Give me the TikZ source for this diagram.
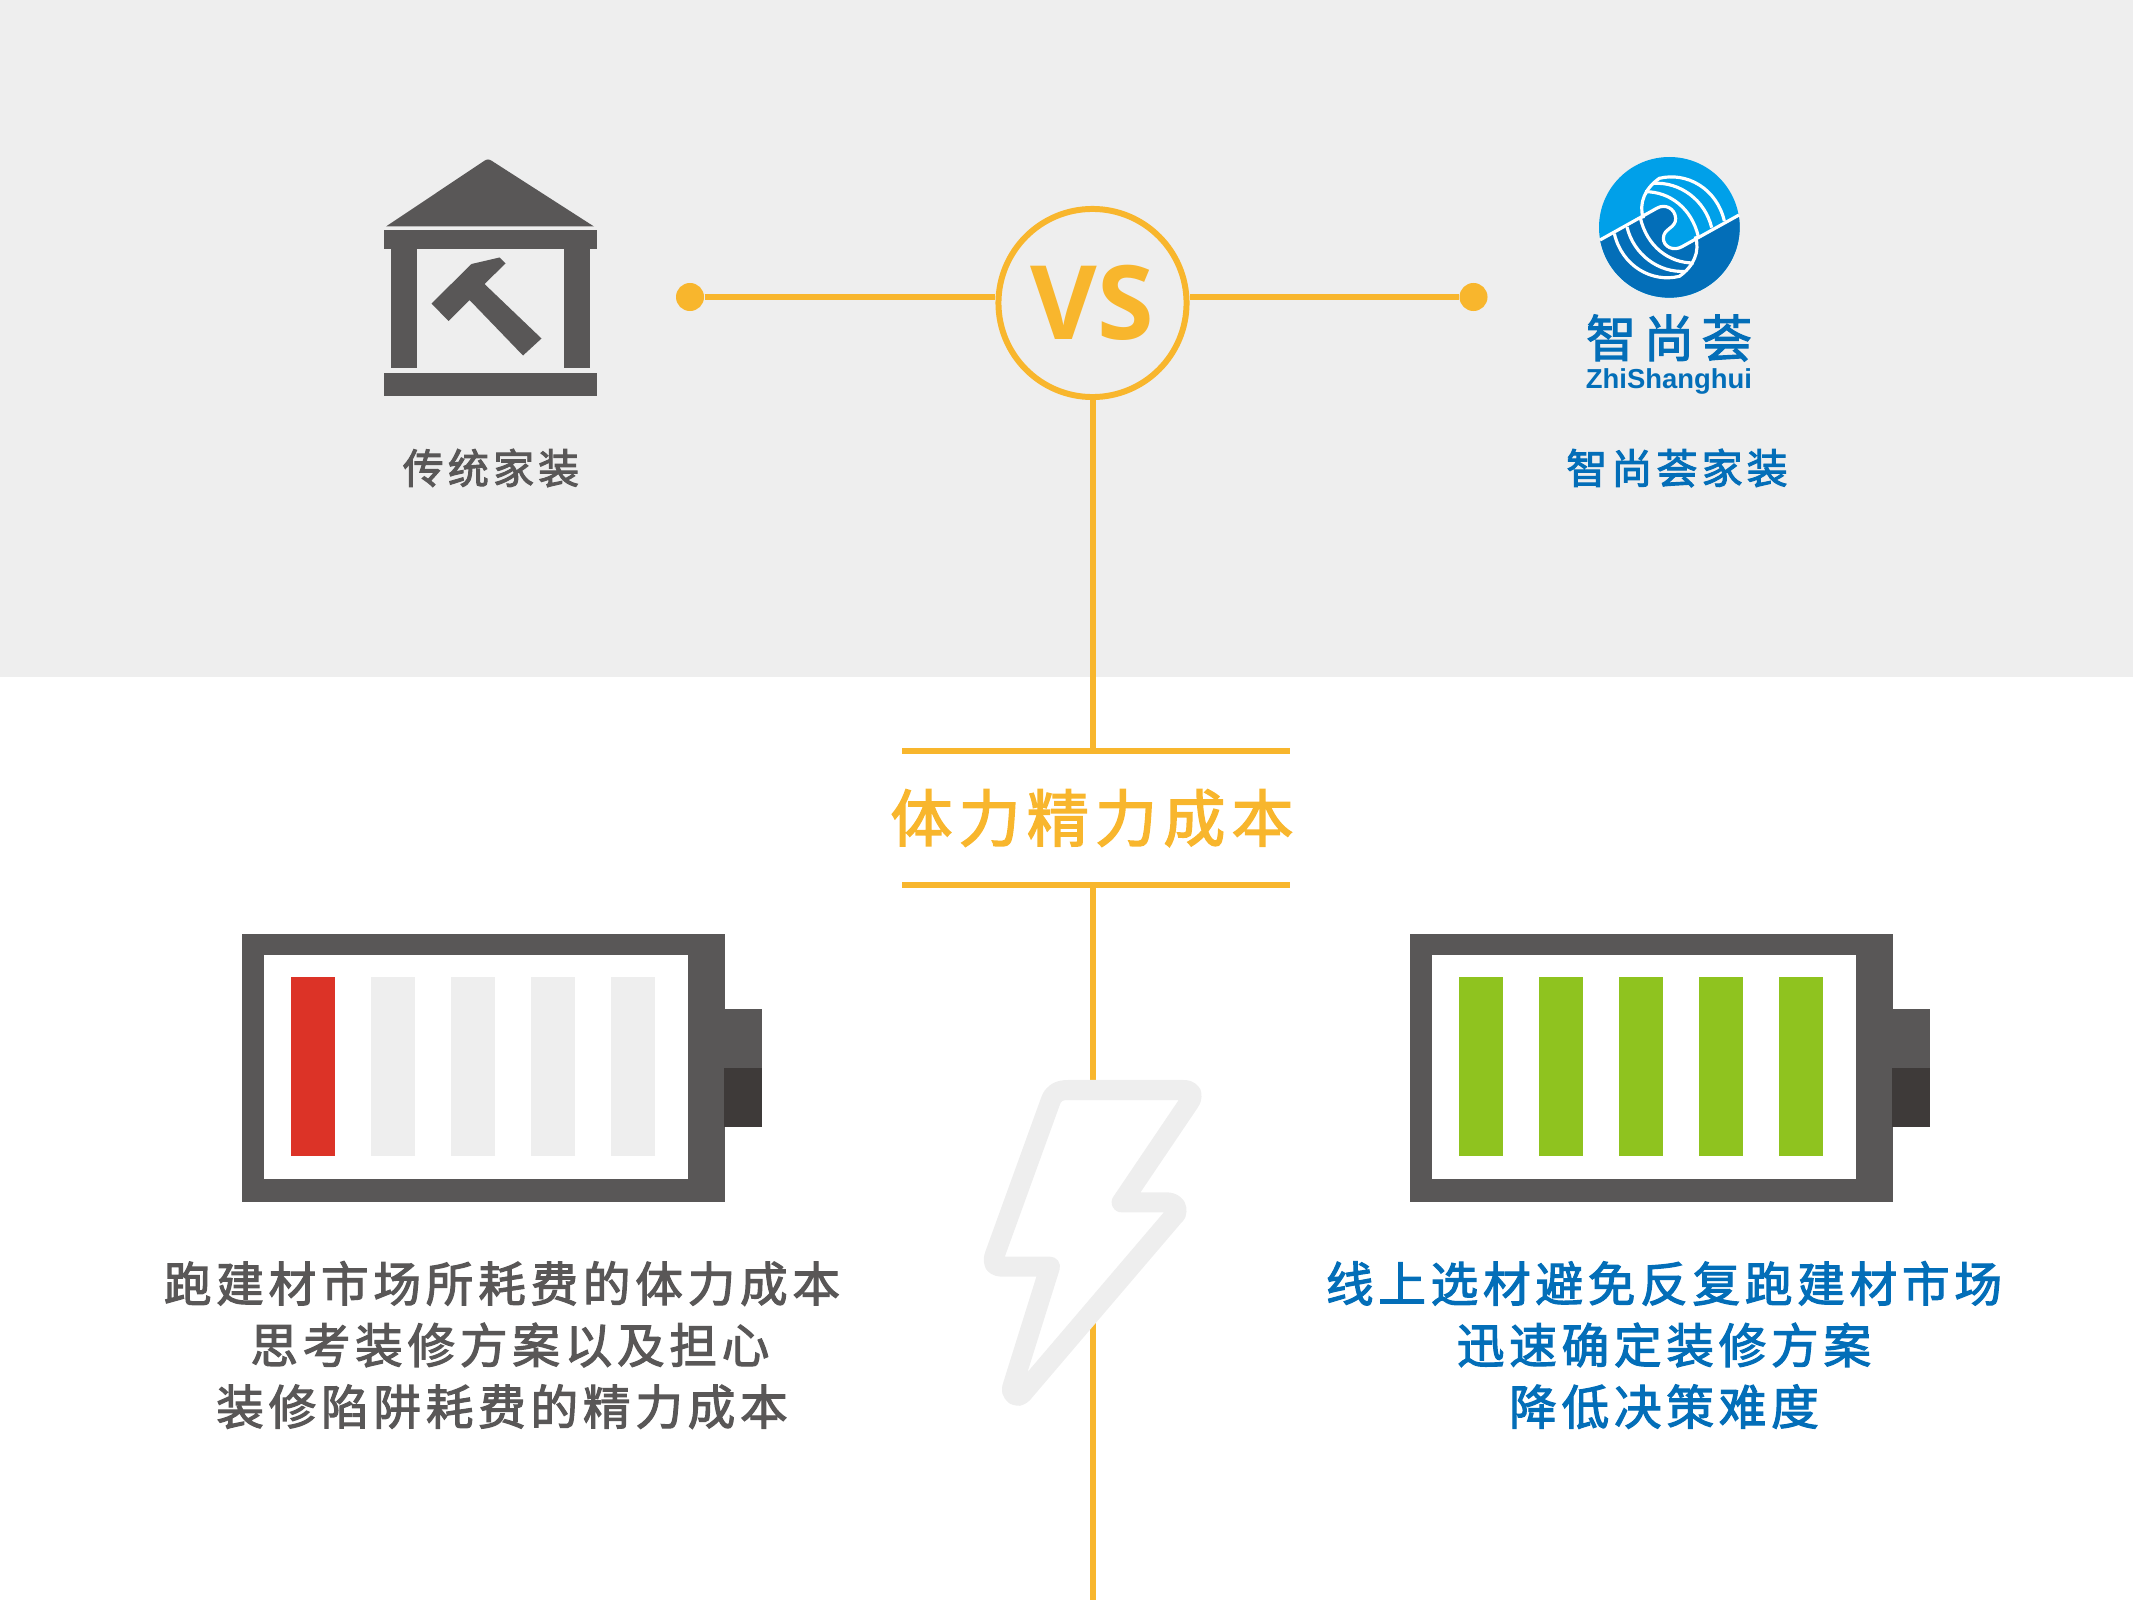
\documentclass[tikz,border=0pt]{standalone}
\usepackage{fontspec}
\usetikzlibrary{positioning}
\newfontfamily\cjktext{Noto Sans CJK SC}[LetterSpace=10,FakeBold=2.4]
\newfontfamily\cjklogo{Noto Sans CJK SC}[LetterSpace=15,FakeBold=2.2]
\newfontfamily\vsfont{Open Sans}[Scale=1.0]
\newfontfamily\logofont{Liberation Sans}
\definecolor{bandgray}{HTML}{EEEEEE}
\definecolor{iconinkgray}{HTML}{595757}
\definecolor{capdark}{HTML}{3E3A39}
\definecolor{accentyellow}{HTML}{F8B62D}
\definecolor{logoblue}{HTML}{036EB8}
\definecolor{logolight}{HTML}{00A0E9}
\definecolor{barred}{HTML}{DC3327}
\definecolor{bargreen}{HTML}{8FC31F}
\newcommand{\logopath}{(30,270) -- (200,175) .. controls (225,160) and (255,175) .. (257,205) .. controls (258,235) and (220,235) .. (220,265) .. controls (220,290) and (250,305) .. (276,290) -- (447,195)}
\newcommand{\battery}[3]{%
  \begin{scope}[xshift=#1*0.01cm]
    \fill[iconinkgray] (241.5,934) rectangle (724.5,1201.5);
    \fill[iconinkgray] (724,1009) rectangle (762,1068);
    \fill[capdark] (724,1068) rectangle (762,1127);
    \fill[white] (263.5,954.5) rectangle (688,1178.5);
    \fill[#2] (291,977) rectangle ++(44,179);
    \foreach \barx in {371,451,531,611}
      \fill[#3] (\barx,977) rectangle ++(44,179);
  \end{scope}}
\tikzset{
  yellowline/.style={line width=1.7pt, draw=accentyellow},
  dotmark/.style={circle, fill=accentyellow, inner sep=0pt, minimum size=0.28cm},
  labeltext/.style={font=\cjktext\fontsize{11.66}{14}\selectfont, inner sep=0pt},
  bodytext/.style={font=\cjktext\fontsize{13.54}{17.5}\selectfont, align=center, inner sep=0pt},
}

\begin{document}
\begin{tikzpicture}[x=0.01cm, y=-0.01cm]
  \useasboundingbox (0,0) rectangle (2133,1600);
  \fill[bandgray] (0,0) rectangle (2133,677);

  % top row
  \node[circle, draw=accentyellow, line width=1.7pt, minimum size=1.88cm, inner sep=0pt,
        text=accentyellow, font=\vsfont\bfseries\fontsize{29.2}{30}\selectfont] (vs) at (1092.5,303) {VS};
  \node[dotmark] (dotleft) at (690,297) {};
  \node[dotmark] (dotright) at (1473.5,297) {};
  \draw[yellowline] (dotleft) -- (dotleft -| vs.west);
  \draw[yellowline] (dotright) -- (dotright -| vs.east);

  % title with its two rules
  \node[font=\cjktext\fontsize{17.64}{20}\selectfont, text=accentyellow, inner sep=0pt] (title) at (1092,818) {体力精力成本};
  \coordinate (ruleup) at (1092.5,751);
  \coordinate (ruledown) at (1092.5,885);
  \coordinate (lineend) at (1092.5,1600);
  \draw[yellowline] (vs.south) -- (ruleup);
  \draw[yellowline] (ruledown) -- (lineend);
  \draw[yellowline] (902,751) -- (1290,751);
  \draw[yellowline] (902,885) -- (1290,885);

  % building with hammer
  \fill[iconinkgray] (386,226.5) -- (484,161) .. controls (487,159) and (489,159) .. (492,161) -- (594,226.5) -- cycle;
  \fill[iconinkgray] (383.5,230) rectangle (597,249.5);
  \fill[iconinkgray] (390.5,249) rectangle (417,368);
  \fill[iconinkgray] (564,249) rectangle (590,368);
  \fill[iconinkgray] (383.5,372.5) rectangle (597,396);
  \fill[iconinkgray] (431.5,303.5) -- (471.5,264) -- (499.5,257.5) -- (505.5,263.5) -- (484.5,284)
     -- (541.5,338.5) -- (523,355.5) -- (469.5,300) -- (448.5,321) -- cycle;
  \node[labeltext, text=iconinkgray] (labelold) at (491,468) {传统家装};

  % logo
  \begin{scope}[shift={(1590,150)}, scale=1/3]
    \begin{scope}
      \clip (238,232) circle (211);
      \fill[logolight] (0,0) rectangle (480,480);
      \fill[logoblue] \logopath -- (480,480) -- (0,480) -- cycle;
    \end{scope}
    \draw[white, line width=0.9pt] \logopath;
    \foreach \turn in {0,180} {
      \begin{scope}[rotate around={\turn:(238,232)}]
        \draw[white, line width=0.9pt] (160,205) .. controls (145,160) and (165,115) .. (208,85)
           .. controls (290,65) and (380,115) .. (403,213);
        \draw[white, line width=0.9pt] (190,100) .. controls (270,95) and (345,150) .. (365,233);
        \draw[white, line width=0.9pt] (165,125) .. controls (240,125) and (305,175) .. (325,260);
      \end{scope}
    }
  \end{scope}
  \node[font=\cjklogo\fontsize{14.3}{16}\selectfont, text=logoblue, inner sep=0pt] (logochars) at (1669,338) {智尚荟};
  \node[font=\logofont\bfseries\fontsize{7.8}{9}\selectfont, text=logoblue, inner sep=0pt] (logoname) at (1669,381) {ZhiShanghui};
  \node[labeltext, text=logoblue] (labelnew) at (1677,468) {智尚荟家装};

  % batteries
  \battery{0}{barred}{bandgray}
  \battery{1168}{bargreen}{bargreen}

  % bolt over the line
  \begin{scope}[shift={(950,1050)}, scale=1/3]
    \draw[bandgray, fill=white, line width=5.7pt, line join=round]
      (355,120) -- (700,120) .. controls (725,120) and (733,135) .. (717,158) -- (515,457) -- (650,457)
      .. controls (680,457) and (690,485) .. (670,500) -- (216,1032)
      .. controls (205,1045) and (180,1034) .. (187,1011) -- (300,650) -- (155,650)
      .. controls (135,650) and (125,640) .. (135,613) -- (302,152)
      .. controls (310,130) and (325,120) .. (355,120) -- cycle;
  \end{scope}

  % descriptions
  \node[bodytext, text=iconinkgray] (textold) at (502,1345) {跑建材市场所耗费的体力成本\\\hspace*{4.5pt}思考装修方案以及担心\\装修陷阱耗费的精力成本};
  \node[bodytext, text=logoblue] (textnew) at (1664,1345) {线上选材避免反复跑建材市场\\迅速确定装修方案\\降低决策难度};
\end{tikzpicture}
\end{document}
